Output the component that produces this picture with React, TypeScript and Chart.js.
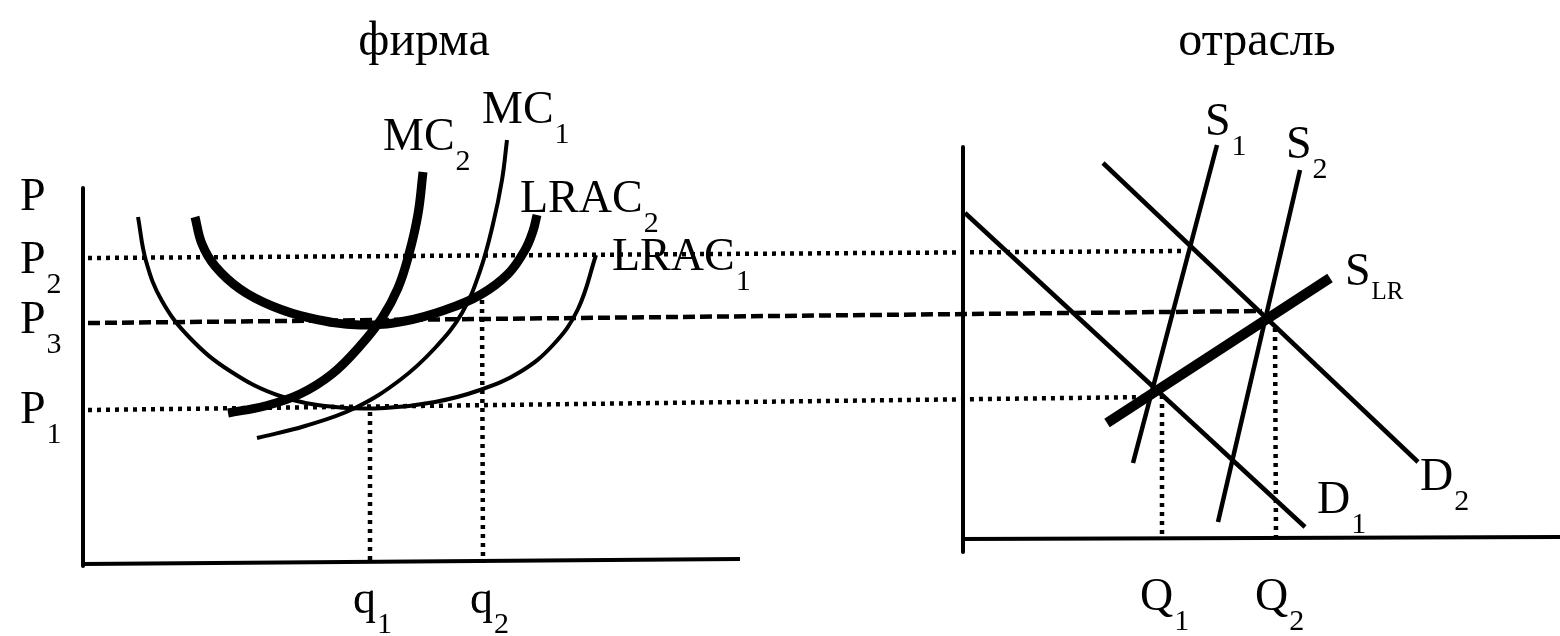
import React, { useEffect, useRef } from "react";
import { Chart, registerables } from "chart.js";

Chart.register(...registerables);

// ---- Data (diagram units: x to the right, price upward) ----
const FIRM_P_AXIS = [{ x: 83, y: 448 }, { x: 83, y: 70 }];
const FIRM_Q_AXIS = [{ x: 83, y: 72 }, { x: 740, y: 77 }];
const IND_P_AXIS = [{ x: 963, y: 489 }, { x: 963, y: 84 }];
const IND_Q_AXIS = [{ x: 963, y: 97 }, { x: 1560, y: 99 }];

const P2_LINE = [{ x: 88, y: 378 }, { x: 1185, y: 385 }];
const P3_LINE = [{ x: 88, y: 313 }, { x: 1262, y: 325 }];
const P1_LINE = [{ x: 88, y: 226 }, { x: 1150, y: 239 }];
const Q1_FIRM = [{ x: 370, y: 224 }, { x: 370, y: 73 }];
const Q2_FIRM = [{ x: 482, y: 336 }, { x: 483, y: 73 }];
const Q1_IND = [{ x: 1162, y: 241 }, { x: 1162, y: 98 }];
const Q2_IND = [{ x: 1275, y: 308 }, { x: 1276, y: 98 }];

const LRAC1 = [
  { x: 138, y: 419 }, { x: 146, y: 375 }, { x: 162, y: 335 }, { x: 190, y: 298 },
  { x: 230, y: 265 }, { x: 280, y: 240 }, { x: 335, y: 229 }, { x: 385, y: 228 },
  { x: 435, y: 234 }, { x: 480, y: 246 }, { x: 520, y: 264 }, { x: 553, y: 291 },
  { x: 578, y: 327 }, { x: 596, y: 381 },
];
const LRAC2 = [
  { x: 195, y: 419 }, { x: 202, y: 392 }, { x: 215, y: 370 }, { x: 240, y: 347 },
  { x: 272, y: 330 }, { x: 310, y: 318 }, { x: 360, y: 311 }, { x: 405, y: 315 },
  { x: 445, y: 326 }, { x: 480, y: 341 }, { x: 508, y: 362 }, { x: 525, y: 386 },
  { x: 533, y: 405 }, { x: 537, y: 421 },
];
const MC1 = [
  { x: 257, y: 198 }, { x: 305, y: 210 }, { x: 355, y: 228 }, { x: 400, y: 256 },
  { x: 435, y: 288 }, { x: 462, y: 323 }, { x: 480, y: 365 }, { x: 493, y: 412 },
  { x: 502, y: 456 }, { x: 507, y: 496 },
];
const MC2 = [
  { x: 228, y: 223 }, { x: 265, y: 230 }, { x: 300, y: 242 }, { x: 332, y: 262 },
  { x: 360, y: 290 }, { x: 382, y: 318 }, { x: 398, y: 348 }, { x: 409, y: 382 },
  { x: 418, y: 422 }, { x: 423, y: 464 },
];

const D1 = [{ x: 965, y: 423 }, { x: 1305, y: 109 }];
const D2 = [{ x: 1103, y: 473 }, { x: 1418, y: 174 }];
const S1 = [{ x: 1133, y: 173 }, { x: 1217, y: 491 }];
const S2 = [{ x: 1218, y: 114 }, { x: 1300, y: 466 }];
const SLR = [{ x: 1107, y: 213 }, { x: 1330, y: 358 }];

// Text annotations: anchor (left / centre, baseline) in diagram units
const LABELS = [
  { text: "фирма", x: 424, y: 581, kind: "title" },
  { text: "отрасль", x: 1257, y: 581, kind: "title" },
  { text: "P", x: 20, y: 426, kind: "label" },
  { text: "P", sub: "2", x: 20, y: 363, kind: "label" },
  { text: "P", sub: "3", x: 20, y: 303, kind: "label" },
  { text: "P", sub: "1", x: 20, y: 213, kind: "label" },
  { text: "q", sub: "1", x: 353, y: 23, kind: "label" },
  { text: "q", sub: "2", x: 470, y: 23, kind: "label" },
  { text: "Q", sub: "1", x: 1140, y: 26, kind: "label" },
  { text: "Q", sub: "2", x: 1255, y: 26, kind: "label" },
  { text: "MC", sub: "2", x: 383, y: 486, kind: "label" },
  { text: "MC", sub: "1", x: 482, y: 513, kind: "label" },
  { text: "LRAC", sub: "2", x: 520, y: 424, kind: "label" },
  { text: "LRAC", sub: "1", x: 612, y: 366, kind: "label" },
  { text: "S", sub: "1", x: 1205, y: 501, kind: "label" },
  { text: "S", sub: "2", x: 1286, y: 478, kind: "label" },
  { text: "S", sub: "LR", x: 1345, y: 351, kind: "labelSmallSub" },
  { text: "D", sub: "1", x: 1317, y: 123, kind: "label" },
  { text: "D", sub: "2", x: 1420, y: 146, kind: "label" },
];

const FONT = '"Liberation Serif", "DejaVu Serif", serif';
const TEXT_STYLES: Record<string, { size: number; sub: number; drop: number; center: boolean }> = {
  title: { size: 48, sub: 30, drop: 20, center: true },
  label: { size: 46, sub: 30, drop: 20, center: false },
  labelSmallSub: { size: 46, sub: 25, drop: 14, center: false },
};

const labelPlugin = {
  id: "diagramLabels",
  afterDatasetsDraw(chart: any) {
    const { ctx, scales } = chart;
    const xs = scales.x;
    const ys = scales.y;
    ctx.save();
    ctx.fillStyle = "#000";
    ctx.textBaseline = "alphabetic";
    ctx.textAlign = "left";
    for (const l of LABELS as any[]) {
      const st = TEXT_STYLES[l.kind];
      const px = xs.getPixelForValue(l.x);
      const py = ys.getPixelForValue(l.y);
      ctx.font = `${st.size}px ${FONT}`;
      const w = ctx.measureText(l.text).width;
      const left = st.center ? px - w / 2 : px;
      ctx.fillText(l.text, left, py);
      if (l.sub) {
        ctx.font = `${st.sub}px ${FONT}`;
        ctx.fillText(l.sub, left + w + 1, py + st.drop);
      }
    }
    ctx.restore();
  },
};

function line(data: any[], width: number, dash: number[] = [], curved = false) {
  return {
    data,
    showLine: true,
    borderColor: "#000",
    backgroundColor: "#000",
    borderWidth: width,
    borderDash: dash,
    pointRadius: 0,
    fill: false,
    cubicInterpolationMode: "default",
    tension: curved ? 0.4 : 0,
    borderCapStyle: "butt",
    borderJoinStyle: "round",
  };
}

export default function App() {
  const ref = useRef<HTMLCanvasElement | null>(null);

  useEffect(() => {
    if (!ref.current) return;
    const DOT = [4, 5];
    const DASH = [12, 5];
    const chart = new Chart(ref.current, {
      type: "scatter",
      data: {
        datasets: [
          line(P2_LINE, 4.5, DOT),
          line(P3_LINE, 4.5, DASH),
          line(P1_LINE, 4.5, DOT),
          line(Q1_FIRM, 4.5, DOT),
          line(Q2_FIRM, 4.5, DOT),
          line(Q1_IND, 4.5, DOT),
          line(Q2_IND, 4.5, DOT),
          line(FIRM_P_AXIS, 4),
          line(FIRM_Q_AXIS, 4),
          line(IND_P_AXIS, 4),
          line(IND_Q_AXIS, 4),
          line(LRAC1, 4, [], true),
          line(MC1, 4, [], true),
          line(LRAC2, 9, [], true),
          line(MC2, 9, [], true),
          line(D1, 4.5),
          line(D2, 4.5),
          line(S1, 4.5),
          line(S2, 4.5),
          line(SLR, 10),
        ] as any,
      },
      options: {
        responsive: false,
        animation: false,
        events: [],
        layout: { padding: 0 },
        plugins: { legend: { display: false }, tooltip: { enabled: false } },
        scales: {
          x: { type: "linear", min: 0, max: 1560, display: false },
          y: { type: "linear", min: 0, max: 636, display: false },
        },
      } as any,
      plugins: [labelPlugin],
    });
    return () => chart.destroy();
  }, []);

  return (
    <div style={{ position: "fixed", left: 0, top: 0, width: 1560, height: 636, background: "#fff" }}>
      <canvas ref={ref} width={1560} height={636} style={{ display: "block" }} />
    </div>
  );
}
